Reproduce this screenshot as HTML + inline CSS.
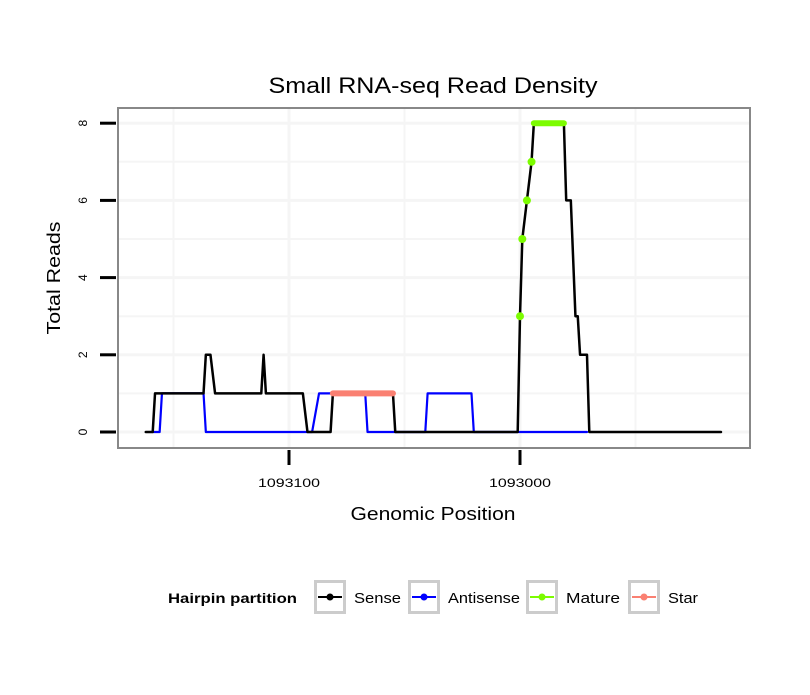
<!DOCTYPE html>
<html><head><meta charset="utf-8"><style>body{margin:0;background:#fff}svg{font-family:"Liberation Sans",sans-serif}</style></head>
<body>
<svg id="c" width="810" height="690" xmlns="http://www.w3.org/2000/svg"></svg>
<script>
const senseX=[1093162,1093159,1093158,1093137,1093136,1093134,1093132,1093112,1093111,1093110,1093094,1093092,1093082,1093081,1093055,1093054,1093001,1093000,1092999,1092997,1092995,1092994,1092981,1092980,1092978,1092976,1092975,1092974,1092971,1092970,1092913];
const senseY=[0,0,1,1,2,2,1,1,2,1,1,0,0,1,1,0,0,3,5,6,7,8,8,6,6,3,3,2,2,0,0];
const antiX=[1093159,1093156,1093155,1093137,1093136,1093093,1093090,1093087,1093067,1093066,1093041,1093040,1093021,1093020,1092971];
const antiY=[0,0,1,1,0,0,0,1,1,0,0,1,1,0,0];
const matureX=[1093000,1092999,1092997,1092995];
const matureY=[3,5,6,7];
const matureTopX=[1092994,1092981];
const matureTopY=[8,8];
const starX=[1093081,1093055];
const starY=[1,1];
const yTicks=[0,2,4,6,8];
const xTicks=[1093100,1093000];
const xTickLabels=["1093100","1093000"];
const NS="http://www.w3.org/2000/svg",svg=document.getElementById('c');
const sx=p=>289+(1093100-p)*2.31, sy=v=>432-v*38.6;
function el(t,a,txt){const e=document.createElementNS(NS,t);for(const k in a)e.setAttribute(k,a[k]);if(txt!=null)e.textContent=txt;svg.appendChild(e);return e;}
let e;
e=el('rect',{x:118,y:108,width:632,height:340,fill:'#fff'});


for(let v=0;v<=8;v++){e=el('line',{x1:118,x2:750,y1:sy(v),y2:sy(v),stroke:'#f5f5f5','stroke-width':v%2?2:3});

}
[1093150,1093100,1093050,1093000,1092950].forEach(p=>{e=el('line',{x1:sx(p),x2:sx(p),y1:108,y2:448,stroke:'#f5f5f5','stroke-width':p%100?2:3});

});
function line(xs,ys,col,w,name){e=el('polyline',{points:xs.map((x,i)=>sx(x)+','+sy(ys[i])).join(' '),fill:'none',stroke:col,'stroke-width':w,'stroke-linejoin':'round','stroke-linecap':'round'});

}
line(antiX,antiY,'#0000ff',2.2,'antisense-line');
line(senseX,senseY,'#000',2.5,'sense-line');
line(starX,starY,'#fa8072',6,'star-line');
line(matureTopX,matureTopY,'#7cfc00',6,'mature-line');
matureX.forEach((x,i)=>{e=el('circle',{cx:sx(x),cy:sy(matureY[i]),r:4,fill:'#7cfc00'});

});
e=el('rect',{x:118,y:108,width:632,height:340,fill:'none',stroke:'#888','stroke-width':2});


yTicks.forEach(v=>{e=el('line',{x1:100,x2:116,y1:sy(v),y2:sy(v),stroke:'#000','stroke-width':3});


e=el('text',{x:0,y:0,transform:`translate(87,${sy(v)}) rotate(-90)`,'text-anchor':'middle','font-size':12},String(v));

});
xTicks.forEach((p,i)=>{e=el('line',{x1:sx(p),x2:sx(p),y1:450,y2:465,stroke:'#000','stroke-width':3});


e=el('text',{x:sx(p),y:487,'text-anchor':'middle','font-size':12,textLength:62,lengthAdjust:'spacingAndGlyphs'},xTickLabels[i]);

});
e=el('text',{x:433,y:93,'text-anchor':'middle','font-size':22,textLength:329,lengthAdjust:'spacingAndGlyphs'},'Small RNA-seq Read Density');


e=el('text',{x:433,y:520,'text-anchor':'middle','font-size':18,textLength:165,lengthAdjust:'spacingAndGlyphs'},'Genomic Position');


e=el('text',{x:0,y:0,transform:'translate(60,278) rotate(-90)','text-anchor':'middle','font-size':18,textLength:113,lengthAdjust:'spacingAndGlyphs'},'Total Reads');


e=el('text',{x:168,y:603,'font-size':14,'font-weight':'bold',textLength:129,lengthAdjust:'spacingAndGlyphs'},'Hairpin partition');


const legNames=['Sense','Antisense','Mature','Star'],legCols=['#000','#0000ff','#7cfc00','#fa8072'],legBox=[314,408,526,628],legW=[47,72,54,30];
legNames.forEach((n,i)=>{const bx=legBox[i];
e=el('rect',{x:bx+1.5,y:581.5,width:29,height:31,fill:'#fff',stroke:'#ccc','stroke-width':3});


e=el('line',{x1:bx+4,x2:bx+28,y1:597,y2:597,stroke:legCols[i],'stroke-width':2});


e=el('circle',{cx:bx+16,cy:597,r:3.5,fill:legCols[i]});


e=el('text',{x:bx+40,y:603,'font-size':15,textLength:legW[i],lengthAdjust:'spacingAndGlyphs'},n);

});
</script>
</body></html>
